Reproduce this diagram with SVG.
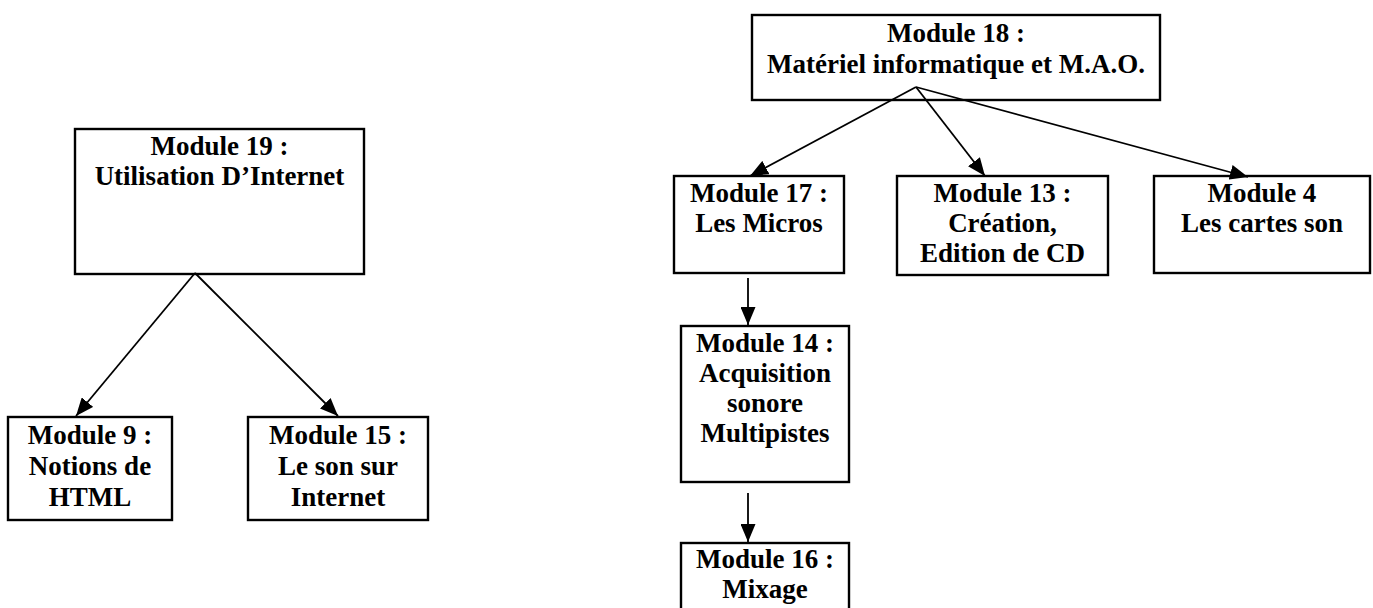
<svg xmlns="http://www.w3.org/2000/svg" width="1373" height="608" viewBox="0 0 1373 608">
<style>
.box{fill:#fff;stroke:#000;stroke-width:2.4}
.t{font-family:"Liberation Serif","Times New Roman",serif;font-weight:bold;font-size:27px;text-anchor:middle;fill:#000}
.c{stroke:#000;stroke-width:1.8;fill:none;marker-end:url(#ah)}
</style>
<defs>
<marker id="ah" markerUnits="userSpaceOnUse" markerWidth="18" markerHeight="15" refX="18" refY="7.5" orient="auto">
<path d="M0,0 L18,7.5 L0,15 z" fill="#000"/>
</marker>
</defs>
<rect width="1373" height="608" fill="#fff"/>
<g id="m19">
<rect class="box" x="75" y="129" width="289" height="145"/>
<text class="t" x="219.5" y="155">Module 19 :</text>
<text class="t" x="219.5" y="185">Utilisation D’Internet</text>
</g>
<g id="m9">
<rect class="box" x="8" y="417" width="164" height="103"/>
<text class="t" x="90" y="444">Module 9 :</text>
<text class="t" x="90" y="475">Notions de</text>
<text class="t" x="90" y="506">HTML</text>
</g>
<g id="m15">
<rect class="box" x="248" y="417" width="180" height="103"/>
<text class="t" x="338" y="444">Module 15 :</text>
<text class="t" x="338" y="475">Le son sur</text>
<text class="t" x="338" y="506">Internet</text>
</g>
<g id="m18">
<rect class="box" x="752" y="15" width="408" height="85"/>
<text class="t" x="956" y="42">Module 18 :</text>
<text class="t" x="956" y="73">Matériel informatique et M.A.O.</text>
</g>
<g id="m17">
<rect class="box" x="674" y="176" width="170" height="97"/>
<text class="t" x="759" y="202">Module 17 :</text>
<text class="t" x="759" y="232">Les Micros</text>
</g>
<g id="m13">
<rect class="box" x="897" y="176" width="211" height="99"/>
<text class="t" x="1002.5" y="202">Module 13 :</text>
<text class="t" x="1002.5" y="232">Création,</text>
<text class="t" x="1002.5" y="262">Edition de CD</text>
</g>
<g id="m4">
<rect class="box" x="1154" y="176" width="216" height="97"/>
<text class="t" x="1262" y="202">Module 4</text>
<text class="t" x="1262" y="232">Les cartes son</text>
</g>
<g id="m14">
<rect class="box" x="681" y="326" width="168" height="156"/>
<text class="t" x="765" y="352">Module 14 :</text>
<text class="t" x="765" y="382">Acquisition</text>
<text class="t" x="765" y="412">sonore</text>
<text class="t" x="765" y="442">Multipistes</text>
</g>
<g id="m16">
<rect class="box" x="681" y="543" width="168" height="80"/>
<text class="t" x="765" y="568">Module 16 :</text>
<text class="t" x="765" y="598">Mixage</text>
</g>
<g id="connectors">
<line class="c" x1="195" y1="273" x2="76" y2="416"/>
<line class="c" x1="195" y1="273" x2="338" y2="416"/>
<line class="c" x1="916" y1="87" x2="750" y2="176"/>
<line class="c" x1="916" y1="87" x2="985" y2="176"/>
<line class="c" x1="916" y1="87" x2="1248" y2="177"/>
<line class="c" x1="748" y1="278" x2="748" y2="325"/>
<line class="c" x1="748" y1="493" x2="748" y2="542"/>
</g>
</svg>
